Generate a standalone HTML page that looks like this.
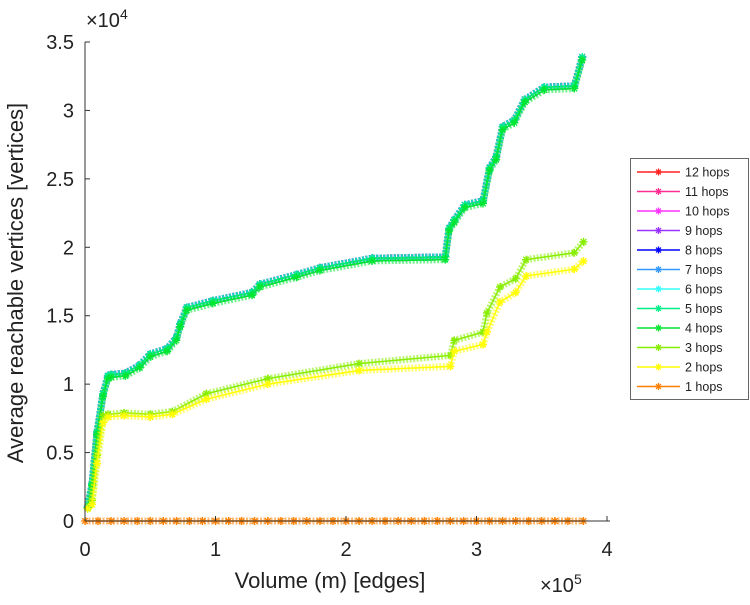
<!DOCTYPE html>
<html><head><meta charset="utf-8"><style>
body{margin:0;background:#fff;width:750px;height:600px;overflow:hidden}
svg{font-family:"Liberation Sans",sans-serif}
</style></head><body>
<svg id="chart" width="750" height="600" viewBox="0 0 750 600" xmlns="http://www.w3.org/2000/svg">
<g id="plot"></g>
<g id="axes"></g>
<text transform="translate(23,283) rotate(-90)" text-anchor="middle" font-size="22" fill="#222">Average reachable vertices [vertices]</text>
<text x="330" y="588" text-anchor="middle" font-size="22" fill="#222">Volume (m) [edges]</text>
<text x="86" y="27" font-size="20" fill="#222">×10<tspan dy="-8" font-size="14">4</tspan></text>
<text x="540" y="592" font-size="20" fill="#222">×10<tspan dy="-8" font-size="14">5</tspan></text>
<g id="legend"></g>
</svg>
<script>
// x in 1e5 edges, y in 1e4 vertices
const upperX = [0.02,0.054,0.092,0.138,0.176,0.2,0.31,0.42,0.5,0.63,0.7,0.73,0.78,0.98,1.28,1.34,1.62,1.8,2.2,2.76,2.79,2.83,2.91,3.05,3.1,3.15,3.2,3.29,3.37,3.52,3.75,3.81];
const upperY = [0.09,0.26,0.63,0.91,1.04,1.05,1.06,1.12,1.2,1.24,1.32,1.42,1.54,1.59,1.65,1.71,1.78,1.83,1.9,1.91,2.12,2.18,2.29,2.32,2.56,2.64,2.86,2.91,3.06,3.15,3.16,3.37];
const upper2Y = [0.1,0.27,0.65,0.93,1.06,1.07,1.08,1.14,1.22,1.26,1.34,1.44,1.56,1.61,1.67,1.73,1.8,1.85,1.92,1.93,2.14,2.2,2.31,2.34,2.58,2.66,2.88,2.93,3.08,3.17,3.18,3.39];
const lowX = [0.02,0.054,0.092,0.138,0.176,0.3,0.5,0.67,0.93,1.4,2.1,2.8,2.83,3.05,3.08,3.18,3.3,3.38,3.75,3.82];
const hop3Y = [0.09,0.15,0.48,0.77,0.78,0.79,0.78,0.8,0.93,1.04,1.15,1.21,1.32,1.38,1.52,1.71,1.77,1.91,1.96,2.04];
const hop2Y = [0.09,0.12,0.42,0.72,0.76,0.77,0.76,0.78,0.89,1.0,1.1,1.13,1.24,1.29,1.38,1.6,1.67,1.79,1.84,1.9];
const hop1X = [0,0.1,0.2,0.3,0.4,0.5,0.6,0.7,0.8,0.9,1,1.1,1.2,1.3,1.4,1.5,1.6,1.7,1.8,1.9,2,2.1,2.2,2.3,2.4,2.5,2.6,2.7,2.8,2.9,3,3.1,3.2,3.3,3.4,3.5,3.6,3.7,3.82];
const hop1Y = [0,0,0,0,0,0,0,0,0,0,0,0,0,0,0,0,0,0,0,0,0,0,0,0,0,0,0,0,0,0,0,0,0,0,0,0,0,0,0];
const seriesNames = ["12 hops","11 hops","10 hops","9 hops","8 hops","7 hops","6 hops","5 hops","4 hops","3 hops","2 hops","1 hops"];
const seriesColors = ["#ff2020","#ff2d8f","#ff33ff","#9933ff","#0000ff","#3399ff","#33ffff","#00ee88","#00e632","#88ee00","#ffff00","#ff8000"];
const xTicks = [0,1,2,3,4];
const yTicks = [0,0.5,1,1.5,2,2.5,3,3.5];
const yTickLabels = ["0","0.5","1","1.5","2","2.5","3","3.5"];

const NS="http://www.w3.org/2000/svg";
const X0=85,X1=607,Y0=521,Y1=42;
const sx=v=>X0+v*(X1-X0)/4;
const sy=v=>Y0-v*(Y0-Y1)/3.5;
function mk(tag,attrs,parent){const e=document.createElementNS(NS,tag);for(const k in attrs)e.setAttribute(k,attrs[k]);parent.appendChild(e);return e;}
const plot=document.getElementById('plot'),axes=document.getElementById('axes'),legend=document.getElementById('legend');
function star(g,x,y,c,s){
  const d=`M${x-s},${y}H${x+s}M${x},${y-s}V${y+s}M${x-s*0.7},${y-s*0.7}L${x+s*0.7},${y+s*0.7}M${x-s*0.7},${y+s*0.7}L${x+s*0.7},${y-s*0.7}`;
  const p=mk('path',{d:d,stroke:c,'stroke-width':1.3,fill:'none'},g);
  
  
}
const seriesData=[];
for(let i=0;i<12;i++){
  let xs,ys;
  if(i<8){xs=upperX;ys=upper2Y;}
  else if(i===8){xs=upperX;ys=upperY;}
  else if(i===9){xs=lowX;ys=hop3Y;}
  else if(i===10){xs=lowX;ys=hop2Y;}
  else {xs=hop1X;ys=hop1Y;}
  seriesData.push([xs,ys]);
}
seriesData.forEach(([xs,ys],i)=>{
  const c=seriesColors[i];
  const g=mk('g',{},plot);
  
  
  const pts=xs.map((x,j)=>sx(x)+','+sy(ys[j])).join(' ');
  mk('polyline',{points:pts,fill:'none',stroke:c,'stroke-width':7,'stroke-opacity':0.55,'stroke-linejoin':'round','stroke-dasharray':'2 1.5'},g);
  mk('polyline',{points:pts,fill:'none',stroke:c,'stroke-width':1.5,'stroke-linejoin':'round'},g);
  xs.forEach((x,j)=>star(g,sx(x),sy(ys[j]),c,4));
});
// axes
mk('line',{x1:X0,y1:Y1,x2:X0,y2:Y0,stroke:'#333','stroke-width':1},axes);
mk('line',{x1:X0,y1:Y0,x2:610,y2:Y0,stroke:'#333','stroke-width':1},axes);
xTicks.forEach(t=>{
  mk('line',{x1:sx(t),y1:Y0,x2:sx(t),y2:Y0-5,stroke:'#333'},axes);
  const tx=mk('text',{x:sx(t),y:556,'text-anchor':'middle','font-size':20,fill:'#222'},axes);
  tx.textContent=t;
  
  
});
yTicks.forEach((t,i)=>{
  mk('line',{x1:X0,y1:sy(t),x2:X0+5,y2:sy(t),stroke:'#333'},axes);
  const tx=mk('text',{x:74,y:sy(t)+7,'text-anchor':'end','font-size':20,fill:'#222'},axes);
  tx.textContent=yTickLabels[i];
  
  
});
// legend
const lb=mk('rect',{x:630.5,y:158.5,width:118,height:241,fill:'#fff',stroke:'#666','stroke-width':1},legend);


seriesNames.forEach((n,i)=>{
  const y=172+i*19.5;
  const g=mk('g',{},legend);
  
  
  mk('line',{x1:637,y1:y,x2:680,y2:y,stroke:seriesColors[i],'stroke-width':1.5},g);
  star(g,658.5,y,seriesColors[i],3.5);
  const t=mk('text',{x:685,y:y+4.5,'font-size':12.5,fill:'#222'},g);
  t.textContent=n;
});
</script>
</body></html>
